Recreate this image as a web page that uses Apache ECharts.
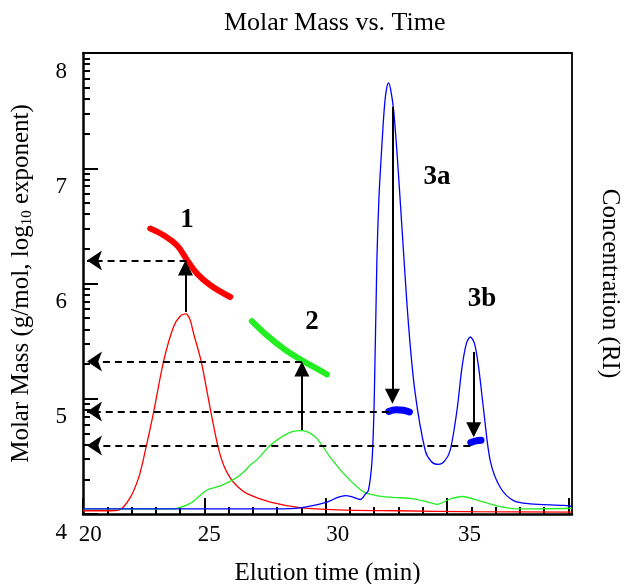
<!DOCTYPE html>
<html><head><meta charset="utf-8">
<script src="https://cdn.jsdelivr.net/npm/echarts@6/dist/echarts.min.js"></script>
<style>html,body{margin:0;padding:0;background:#fff}#c{width:624px;height:584px}</style>
</head><body><div id="c"></div>
<script>
const FONT = '"Liberation Serif","Times New Roman",serif';

// ---- tick labels ----
const xTickLabels = [20, 25, 30, 35];
const yTickLabels = [4, 5, 6, 7, 8];

// ---- concentration (RI) traces: [time (min), signal] ----
const redConc = [[20,0.7],[21,0.7],[21.5,0.9],[21.95,3.6],[22.3,8.0],[22.57,13.8],[22.91,22.1],[23.32,33.1],[23.73,40.6],[24.0,42.9],[24.22,43.4],[24.4,42.3],[24.56,39.1],[24.87,33.1],[25.27,22.1],[25.55,14.9],[25.8,10.5],[26.07,7.8],[26.4,5.8],[26.8,4.3],[27.72,2.6],[28.95,1.4],[30.5,0.9],[33,0.7],[36,0.5],[40.15,0.4]];
const greenConc = [[20,1.1],[23.5,1.1],[23.9,1.3],[24.42,2.3],[24.8,3.9],[25.11,5.2],[25.66,6.1],[26.21,7.5],[26.6,9.0],[26.89,10.6],[27.17,11.8],[27.72,14.9],[28.27,17.0],[28.65,17.9],[29.0,18.1],[29.3,17.7],[29.65,16.3],[30.19,12.3],[30.88,8.0],[31.56,4.8],[32.1,4.0],[32.66,3.65],[33.62,3.3],[34.2,2.6],[34.59,2.1],[35.1,3.2],[35.62,3.8],[36.37,2.8],[37.19,1.6],[38.02,1.1],[40.15,1.25]];
const blueConc = [[20,1.1],[28,1.1],[28.95,1.35],[30.05,2.6],[30.5,3.6],[30.81,4.0],[31.1,3.7],[31.43,3.15],[31.62,4.2],[31.76,5.1],[31.91,11.6],[32.0,24.6],[32.11,55.0],[32.19,68],[32.28,76.8],[32.41,87.6],[32.5,92],[32.59,93.5],[32.68,92],[32.8,87.6],[32.96,76.8],[33.14,62.3],[33.42,40.6],[33.69,26.1],[34.1,13.8],[34.35,11.4],[34.64,10.75],[34.89,11.4],[35.13,13.8],[35.41,22.5],[35.62,31.9],[35.8,37.0],[35.96,38.4],[36.13,37.0],[36.3,31.9],[36.51,22.5],[36.78,11.6],[37.19,5.8],[37.74,2.9],[38.43,2.2],[39.8,1.85],[40.15,1.63]];

// ---- molar mass (log10 exponent): [time (min), exponent] ----
const massRed = [[22.77,6.477],[23.32,6.419],[23.87,6.332],[24.29,6.202],[24.7,6.086],[25.25,5.985],[26.07,5.883]];
const massGreen = [[26.96,5.674],[27.58,5.55],[28.27,5.434],[29.02,5.333],[29.64,5.261],[30.05,5.211]];
const mass3a = [[32.6,4.89],[32.9,4.905],[33.2,4.9],[33.45,4.885]];
const mass3b = [[35.98,4.62],[36.2,4.635],[36.4,4.64]];

// ---- annotations ----
const dashedArrows = [[24.27,6.2],[29.02,5.324],[32.6,4.89],[35.96,4.594]]; // [time, exponent] -> to axis
const vertArrows = [[24.22,5.752,6.2],[29.02,4.728,5.324],[32.75,7.533,4.956],[36.1,5.405,4.667]]; // [time, from, to]
const peakNames = ['1','2','3a','3b'];
const peakLabelPos = [[24.29,6.549],[29.44,5.666],[34.59,6.925],[36.44,5.869]];

const xLabelShift = {20:0.3, 25:0.2, 30:0.5, 35:0.93};
const minorX = []; for (let t = 21; t < 40; t++) if (t % 5) minorX.push(t);
const minorY = []; for (let d = 4; d < 8; d++) for (let m = 2; m <= 9; m++) minorY.push(d + Math.log10(m));

const black = '#000';
const HEAD = 15;                 // arrow head size (px)
const PX_PER_MIN = 489 / 20.15;  // layout helper for head placement
const PX_PER_DEC = 461 / 4;
const chart = echarts.init(document.getElementById('c'));
const concSeries = (data, color) => ({type:'line', data, xAxisIndex:0, yAxisIndex:2, showSymbol:false, smooth:0.3, lineStyle:{color, width:1.3}, z:2, silent:true});
const massSeries = (data, color, extra) => Object.assign({type:'line', data, xAxisIndex:0, yAxisIndex:0, showSymbol:false, smooth:0.4, lineStyle:{color, width:6, cap:'round', join:'round'}, z:4, silent:true}, extra||{});

const markLines = [];
dashedArrows.forEach(([t,e]) => markLines.push([{coord:[t,e], symbol:'none', lineStyle:{type:[7,5], width:2, color:black}}, {coord:[20 + 4/PX_PER_MIN, e], symbol:'arrow', symbolSize:HEAD}]));
vertArrows.forEach(([t,a,b]) => {
  const s = Math.sign(b - a);
  markLines.push([{coord:[t,a], symbol:'none', lineStyle:{type:'solid', width:2, color:black}}, {coord:[t, b - s*(HEAD/2)/PX_PER_DEC], symbol:'triangle', symbolSize:HEAD}]);
});

chart.setOption({
  animation:false,
  title:{text:'Molar Mass vs. Time', left:219, top:5, textStyle:{fontFamily:FONT, fontSize:26, fontWeight:'normal', color:black}},
  grid:{left:83, right:52, top:53, bottom:70, outerBoundsMode:'none', containLabel:false},
  xAxis:[
    {type:'value', min:20, max:40.15, position:'bottom',
     axisLine:{show:true, onZero:false, lineStyle:{color:black, width:2.5}},
     axisTick:{show:true, inside:true, length:16, lineStyle:{color:black, width:2}, customValues:[20,25,30,35,40]},
     axisLabel:{customValues:xTickLabels.map(v=>v+xLabelShift[v]), formatter:v=>String(Math.round(v/5)*5), fontFamily:FONT, fontSize:23, color:black, margin:9},
     splitLine:{show:false},
     name:'Elution time (min)', nameLocation:'middle', nameGap:47, nameTextStyle:{fontFamily:FONT, fontSize:25, color:black}},
    {type:'value', min:20, max:40.15, position:'bottom',
     axisLine:{show:false}, axisTick:{show:true, inside:true, length:7, lineStyle:{color:black, width:2}, customValues:minorX},
     axisLabel:{show:false}, splitLine:{show:false}},
    {type:'value', min:20, max:40.15, position:'top',
     axisLine:{show:true, onZero:false, lineStyle:{color:black, width:1.8}}, axisTick:{show:false}, axisLabel:{show:false}, splitLine:{show:false}}
  ],
  yAxis:[
    {type:'value', min:4, max:8, position:'left',
     axisLine:{show:true, onZero:false, lineStyle:{color:black, width:2.5}},
     axisTick:{show:true, inside:true, length:15, lineStyle:{color:black, width:2}, customValues:[4,5,6,7,8]},
     axisLabel:{customValues:yTickLabels, verticalAlign:'top', padding:[7,0,0,0], fontFamily:FONT, fontSize:23, color:black, margin:16},
     splitLine:{show:false},
     name:'{n|Molar Mass (g/mol, log}{s|10}{n| exponent)}', nameLocation:'middle', nameGap:48,
     nameTextStyle:{rich:{n:{fontFamily:FONT, fontSize:25, color:black, lineHeight:28}, s:{fontFamily:FONT, fontSize:15, color:black, lineHeight:28, verticalAlign:'bottom', padding:[10,0,0,0]}}}},
    {type:'value', min:4, max:8, position:'left',
     axisLine:{show:false}, axisTick:{show:true, inside:true, length:7, lineStyle:{color:black, width:2}, customValues:minorY},
     axisLabel:{show:false}, splitLine:{show:false}},
    {type:'value', min:0, max:100, position:'right',
     axisLine:{show:true, onZero:false, lineStyle:{color:black, width:1.8}}, axisTick:{show:false}, axisLabel:{show:false}, splitLine:{show:false},
     name:'Concentration (RI)', nameLocation:'middle', nameRotate:-90, nameGap:25, nameTextStyle:{fontFamily:FONT, fontSize:25, color:black}}
  ],
  series:[
    concSeries(redConc, '#ff0000'),
    concSeries(greenConc, '#22ee22'),
    concSeries(blueConc, '#0000ff'),
    massSeries(massRed, '#ff0000', {
      markLine:{silent:true, animation:false, label:{show:false}, emphasis:{disabled:true}, data:markLines, z:6},
      markPoint:{silent:true, animation:false, symbol:'circle', symbolSize:1, itemStyle:{color:'rgba(0,0,0,0)'},
        label:{show:true, position:'inside', formatter:'{b}', fontFamily:FONT, fontSize:27, fontWeight:'bold', color:black},
        data:peakNames.map((n,i)=>({name:n, coord:peakLabelPos[i]}))}
    }),
    massSeries(massGreen, '#22ee22'),
    massSeries(mass3a, '#0000ff', {lineStyle:{color:'#0000ff', width:7, cap:'round', join:'round'}}),
    massSeries(mass3b, '#0000ff', {lineStyle:{color:'#0000ff', width:7, cap:'round', join:'round'}})
  ]
});
</script></body></html>
